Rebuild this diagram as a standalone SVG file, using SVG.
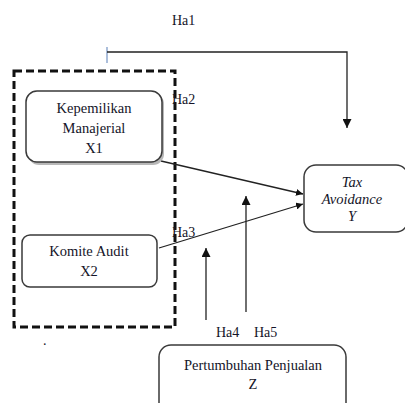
<svg xmlns="http://www.w3.org/2000/svg" width="405" height="403" viewBox="0 0 405 403">
<defs>
<marker id="ah" viewBox="0 0 10 10" refX="10" refY="5" markerWidth="7" markerHeight="7" markerUnits="userSpaceOnUse" orient="auto">
<path d="M0,0 L10,5 L0,10 z" fill="#111"/>
</marker>
<marker id="ah2" viewBox="0 0 10 10" refX="10" refY="5" markerWidth="9" markerHeight="9" markerUnits="userSpaceOnUse" orient="auto">
<path d="M0,0 L10,5 L0,10 z" fill="#111"/>
</marker>
</defs>
<style>
.box{fill:#fff;stroke:#3a3a3a;stroke-width:1.5}
text{font-family:"Liberation Serif",Tinos,"Times New Roman",Times,"DejaVu Serif","Noto Serif",serif;fill:#141428}
.t{font-size:14.5px;text-anchor:middle}
.lb{font-size:14px}
.ln{fill:none;stroke:#222;stroke-width:1.3}
</style>
<rect width="405" height="403" fill="#fff"/>
<g id="group-dashed">
<rect x="14" y="71" width="161" height="256" fill="none" stroke="#111" stroke-width="3" stroke-dasharray="8,4"/>
</g>
<g id="connectors">
<line x1="107" y1="47" x2="107" y2="63" stroke="#8fa9cf" stroke-width="1.5"/>
<polyline class="ln" points="107,52 347,52 347,128" marker-end="url(#ah2)"/>
<line class="ln" x1="161" y1="161" x2="303" y2="194" marker-end="url(#ah)"/>
<line class="ln" x1="159" y1="248" x2="303" y2="204" marker-end="url(#ah)"/>
<line class="ln" x1="206" y1="320" x2="206" y2="248" marker-end="url(#ah2)"/>
<line class="ln" x1="246" y1="312" x2="246" y2="196" marker-end="url(#ah2)"/>
</g>
<g id="labels" font-family="Liberation Serif, serif">
<text class="lb" x="172" y="25">Ha1</text>
<text class="lb" x="172" y="104">Ha2</text>
<text class="lb" x="172" y="237">Ha3</text>
<text class="lb" x="216" y="337">Ha4</text>
<text class="lb" x="254" y="337">Ha5</text>
<text class="lb" x="43" y="345">.</text>
</g>
<g id="node-x1">
<rect x="28" y="93" width="136" height="72" rx="11" fill="#9a9a9a" opacity="0.7"/>
<rect class="box" x="26" y="91" width="136" height="71" rx="11"/>
<text class="t" x="94" y="113">Kepemilikan</text>
<text class="t" x="94" y="133">Manajerial</text>
<text class="t" x="94" y="153">X1</text>
</g>
<g id="node-x2">
<rect class="box" x="22" y="235" width="135" height="52" rx="8"/>
<text class="t" x="89" y="256">Komite Audit</text>
<text class="t" x="89" y="276">X2</text>
</g>
<g id="node-y">
<rect class="box" x="304" y="165" width="104" height="67" rx="12"/>
<text class="t" x="352" y="187" font-style="italic">Tax</text>
<text class="t" x="352" y="204" font-style="italic">Avoidance</text>
<text class="t" x="352" y="221" font-style="italic">Y</text>
</g>
<g id="node-z">
<rect class="box" x="159" y="345" width="187" height="70" rx="12"/>
<text class="t" x="253" y="370">Pertumbuhan Penjualan</text>
<text class="t" x="253" y="389">Z</text>
</g>
</svg>
